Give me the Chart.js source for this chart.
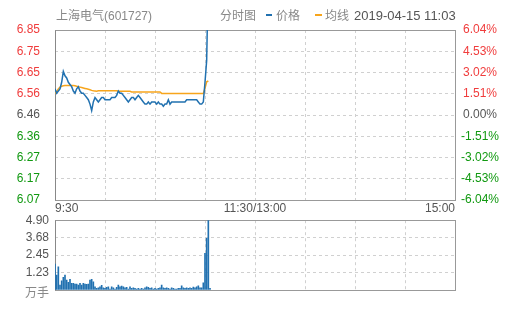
<!DOCTYPE html>
<html><head><meta charset="utf-8">
<script src="https://cdn.jsdelivr.net/npm/chart.js@4/dist/chart.umd.min.js"></script>
<style>
html,body{margin:0;padding:0;background:#fff;width:505px;height:310px;overflow:hidden;font-family:"Liberation Sans","Noto Sans CJK SC",Arial,sans-serif;}
#wrap{position:relative;width:505px;height:310px;}
canvas{position:absolute;left:0;background:transparent;}
.t{position:absolute;font-size:12px;line-height:12px;color:#888;white-space:nowrap;}
.dash{position:absolute;height:2px;}
</style></head><body>
<div id="wrap">
<canvas id="c1" width="505" height="240" style="top:0px"></canvas>
<canvas id="c2" width="505" height="103" style="top:207px"></canvas>
<div class="t" style="left:56px;top:10px;">上海电气(601727)</div>
<div class="t" style="left:220px;top:10px;">分时图</div>
<div class="dash" style="left:266px;top:14px;width:6px;background:#2171b0;"></div>
<div class="t" style="left:276px;top:10px;">价格</div>
<div class="dash" style="left:315px;top:14px;width:7px;background:#f7a51c;"></div>
<div class="t" style="left:325px;top:10px;">均线</div>
<div class="t" style="left:354px;top:9px;font-size:13px;line-height:13px;color:#555;">2019-04-15 11:03</div>
<div class="t" style="left:0px;top:287px;width:49px;text-align:right;">万手</div>
</div>
<script>
// ---- data (minute index from 9:30) ----
const priceSeries = [6.58,6.56,6.57,6.58,6.61,6.66,6.64,6.63,6.61,6.60,
  6.59,6.57,6.56,6.58,6.59,6.57,6.56,6.56,6.55,6.54,
  6.53,6.51,6.48,6.52,6.54,6.53,6.52,6.53,6.54,6.54,
  6.53,6.53,6.53,6.53,6.54,6.54,6.54,6.55,6.57,6.56,
  6.56,6.55,6.54,6.53,6.52,6.53,6.54,6.54,6.53,6.54,
  6.55,6.54,6.53,6.52,6.51,6.51,6.52,6.51,6.52,6.52,
  6.52,6.51,6.52,6.51,6.51,6.50,6.51,6.51,6.53,6.51,
  6.52,6.52,6.52,6.52,6.52,6.52,6.52,6.52,6.52,6.53,
  6.53,6.53,6.53,6.53,6.53,6.53,6.52,6.51,6.51,6.52,
  6.61,6.71,7.11];
const avgSeries = [6.560,6.568,6.580,6.588,6.592,6.594,6.595,6.595,6.595,6.595,
  6.595,6.595,6.594,6.592,6.590,6.588,6.586,6.584,6.582,6.580,
  6.578,6.576,6.573,6.571,6.570,6.569,6.571,6.571,6.571,6.571,
  6.571,6.571,6.571,6.571,6.571,6.571,6.571,6.571,6.569,6.569,
  6.569,6.569,6.569,6.569,6.569,6.569,6.566,6.566,6.566,6.566,
  6.566,6.566,6.566,6.566,6.566,6.566,6.566,6.566,6.566,6.566,
  6.566,6.566,6.566,6.566,6.559,6.559,6.559,6.559,6.559,6.559,
  6.559,6.559,6.559,6.559,6.559,6.559,6.559,6.559,6.559,6.559,
  6.559,6.559,6.559,6.559,6.559,6.559,6.559,6.559,6.559,6.559,
  6.582,6.612,6.616];
const volumeSeries = [1.82,1.05,1.63,0.35,0.65,0.89,1.05,0.70,0.54,0.75,
  0.47,0.47,0.42,0.42,0.35,0.47,0.35,0.47,0.42,0.40,
  0.42,0.70,0.75,0.58,0.23,0.12,0.16,0.23,0.33,0.16,
  0.12,0.19,0.23,0.07,0.23,0.16,0.07,0.19,0.35,0.23,
  0.28,0.23,0.16,0.19,0.07,0.23,0.12,0.16,0.12,0.07,
  0.12,0.07,0.12,0.07,0.16,0.23,0.19,0.12,0.16,0.07,
  0.12,0.07,0.12,0.16,0.35,0.16,0.12,0.16,0.12,0.07,
  0.16,0.12,0.07,0.07,0.12,0.12,0.30,0.16,0.12,0.16,
  0.12,0.16,0.12,0.21,0.16,0.23,0.30,0.16,0.16,0.50,
  2.57,3.62,4.90,0.12];

const priceMin = 6.07, priceMax = 6.85;
const pctMin = -6.04, pctMax = 6.04;
const volMax = 4.90;
const priceTickLabels = ['6.07','6.17','6.27','6.36','6.46','6.56','6.65','6.75','6.85'];
const pctTickLabels = ['-6.04%','-4.53%','-3.02%','-1.51%','0.00%','1.51%','3.02%','4.53%','6.04%'];
const volTickLabels = ['','1.23','2.45','3.68','4.90'];
const timeTickMinutes = [0,120,240];
const timeTickLabels = ['9:30','11:30/13:00','15:00'];

const BLUE = '#2171b0', ORANGE = '#f7a51c';
const RED = '#f03c3c', GREEN = '#119911', GRAY = '#555';
const GRID = '#d0d0d0';

Chart.defaults.font.family = '"Liberation Sans", Arial, sans-serif';
Chart.defaults.font.size = 12;

function evenTicks(n) {
  return function(scale) {
    const t = [];
    for (let i = 0; i <= n; i++) t.push({value: scale.min + (scale.max - scale.min) * i / n});
    scale.ticks = t;
  };
}
function updownColor(ctx) {
  return ctx.index < 4 ? GREEN : (ctx.index === 4 ? GRAY : RED);
}
const framePlugin = {
  id: 'frame',
  beforeDatasetsDraw(chart) {
    const a = chart.chartArea, ctx = chart.ctx;
    ctx.save();
    ctx.lineWidth = 1;
    ctx.strokeStyle = '#999';
    const l = Math.round(a.left) + 0.5, t = Math.round(a.top) + 0.5;
    const r = Math.round(a.right) + 0.5, b = Math.round(a.bottom) + 0.5;
    ctx.strokeRect(l, t, r - l, b - t);
    ctx.strokeStyle = '#888';
    ctx.beginPath(); ctx.moveTo(l, t); ctx.lineTo(l, b); ctx.stroke();
    ctx.restore();
  }
};
const timeCallback = v => { const k = timeTickMinutes.indexOf(v); return k >= 0 ? timeTickLabels[k] : ''; };

new Chart(document.getElementById('c1'), {
  type: 'line',
  data: { datasets: [
    { label: '价格', data: priceSeries.map((v, i) => ({x: i, y: v})), borderColor: BLUE, borderWidth: 1.5,
      pointRadius: 0, tension: 0, yAxisID: 'y', fill: false },
    { label: '均线', data: avgSeries.map((v, i) => ({x: i, y: v})), borderColor: ORANGE, borderWidth: 1.5,
      pointRadius: 0, tension: 0, yAxisID: 'y', fill: false }
  ]},
  options: {
    responsive: false, animation: false, events: [],
    layout: { padding: { top: 30, left: 0, right: 0, bottom: 0 } },
    plugins: { legend: { display: false }, tooltip: { enabled: false } },
    scales: {
      x: { type: 'linear', min: 0, max: 240,
        ticks: { stepSize: 30, autoSkip: false, maxRotation: 0, align: 'inner', padding: 1, color: GRAY, callback: timeCallback },
        grid: { color: GRID, drawTicks: false }, border: { display: false, dash: [3, 3] },
        afterFit: s => { s.height = 40; } },
      y: { position: 'left', min: priceMin, max: priceMax, afterBuildTicks: evenTicks(8),
        ticks: { autoSkip: false, padding: 15, color: updownColor, callback: (v, i) => priceTickLabels[i] },
        grid: { color: GRID, drawTicks: false }, border: { display: false, dash: [3, 3] },
        afterFit: s => { s.width = 55; } },
      y2: { position: 'right', min: pctMin, max: pctMax, afterBuildTicks: evenTicks(8),
        ticks: { autoSkip: false, padding: 6, crossAlign: 'center', color: updownColor, callback: (v, i) => pctTickLabels[i] },
        grid: { display: false, drawTicks: false }, border: { display: false },
        afterFit: s => { s.width = 50; } }
    }
  },
  plugins: [framePlugin]
});

new Chart(document.getElementById('c2'), {
  type: 'bar',
  data: { datasets: [
    { label: '成交量', data: volumeSeries.map((v, i) => ({x: i, y: v})), backgroundColor: BLUE, borderWidth: 0, barThickness: 1 }
  ]},
  options: {
    responsive: false, animation: false, events: [],
    layout: { padding: { top: 8, left: 0, right: 50, bottom: 0 } },
    plugins: { legend: { display: false }, tooltip: { enabled: false } },
    scales: {
      x: { type: 'linear', min: 0, max: 240, offset: false,
        ticks: { display: false, stepSize: 30, autoSkip: false },
        grid: { color: GRID, drawTicks: false, offset: false }, border: { display: false, dash: [3, 3] },
        afterFit: s => { s.height = 20; } },
      y: { position: 'left', min: 0, max: volMax, afterBuildTicks: evenTicks(4),
        ticks: { autoSkip: false, padding: 6, color: GRAY, callback: (v, i) => volTickLabels[i] },
        grid: { color: GRID, drawTicks: false }, border: { display: false, dash: [3, 3] },
        afterFit: s => { s.width = 55; } }
    }
  },
  plugins: [framePlugin]
});
</script>
</body></html>
